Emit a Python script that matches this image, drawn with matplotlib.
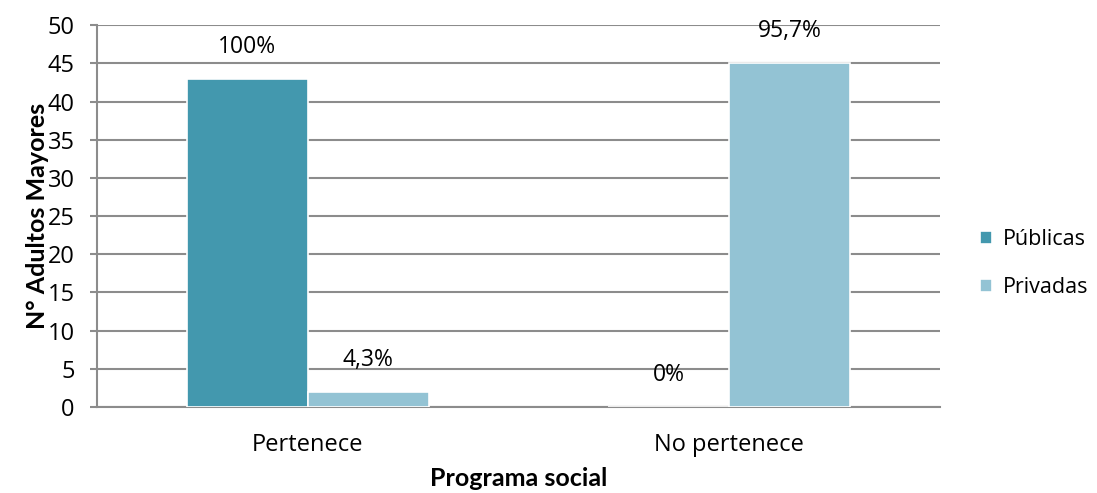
import numpy as np
import matplotlib.pyplot as plt

plt.rcParams['font.family'] = ['Open Sans', 'DejaVu Sans']

# datos
categorias = ['Pertenece', 'No pertenece']
publicas = [43, 0]
privadas = [2, 45]
etiq_publicas = ['100%', '0%']
etiq_privadas = ['4,3%', '95,7%']

col_pub = '#4398AE'
col_priv = '#93C3D4'
gris = '#8C8C8C'

fig = plt.figure(figsize=(10.97, 4.93), dpi=100)
ax = fig.add_axes([0.0884, 0.1744, 0.7685, 0.7746])

x = np.arange(len(categorias))
w = 0.287

b1 = ax.bar(x - w/2, publicas, w, color=col_pub, edgecolor='white',
            linewidth=1.2, label='Públicas', zorder=3)
b2 = ax.bar(x + w/2, privadas, w, color=col_priv, edgecolor='white',
            linewidth=1.2, label='Privadas', zorder=3)

# etiquetas de porcentaje sobre cada barra
for rect, t in zip(list(b1) + list(b2), etiq_publicas + etiq_privadas):
    ax.annotate(t, (rect.get_x() + rect.get_width()/2, rect.get_height()),
                xytext=(0, 32), textcoords='offset pixels',
                ha='center', va='center', fontsize=16.5)

ax.set_xlim(-0.5, 1.5)
ax.set_ylim(0, 50)
ax.set_yticks(np.arange(0, 51, 5))
ax.set_xticks(x)
ax.set_xticklabels(categorias)

ax.yaxis.grid(True, color=gris, linewidth=1.5, zorder=0)
ax.set_axisbelow(True)
for s in ['top', 'right']:
    ax.spines[s].set_visible(False)
for s in ['left', 'bottom']:
    ax.spines[s].set_color(gris)
    ax.spines[s].set_linewidth(1.5)

ax.tick_params(axis='x', length=0, labelsize=17, pad=19)
ax.tick_params(axis='y', length=5, width=1.5, color=gris, labelsize=17, pad=11)

ax.set_ylabel('N° Adultos Mayores', fontsize=18, fontweight='bold',
              family=['Lato', 'DejaVu Sans'], labelpad=-1)
ax.set_xlabel('Programa social', fontsize=18, fontweight='bold',
              family=['Lato', 'DejaVu Sans'], labelpad=7)

ax.legend(loc='center left', bbox_to_anchor=(1.025, 0.375), frameon=False,
          fontsize=15.5, handlelength=0.55, handleheight=0.55, labelspacing=1.25,
          handletextpad=0.5)

fig.savefig('out.png', dpi=100)
